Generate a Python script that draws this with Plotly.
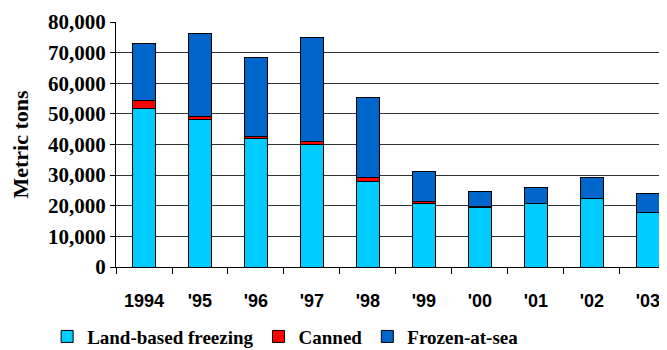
import plotly.graph_objects as go

years = ["1994", "'95", "'96", "'97", "'98", "'99", "'00", "'01", "'02", "'03"]
land_based = [51700, 48100, 41900, 40000, 28000, 20700, 19400, 20700, 22300, 17800]
canned = [2700, 900, 700, 1000, 1100, 600, 300, 100, 100, 100]
frozen_at_sea = [18500, 27100, 25800, 33800, 26400, 10000, 4800, 5000, 6800, 6100]

series = [
    ("Land-based freezing", land_based, "#00CCFF"),
    ("Canned", canned, "#FF0000"),
    ("Frozen-at-sea", frozen_at_sea, "#0066CC"),
]

fig = go.Figure()
for name, vals, color in series:
    fig.add_trace(go.Bar(
        x=years, y=vals, name=name,
        marker=dict(color=color, line=dict(color="black", width=1)),
    ))

serif = "Liberation Serif, Times New Roman, serif"
# page body has an 8px default margin, so the figure is sized to end at the window edge
fig.update_layout(
    width=659, height=342,
    barmode="stack", bargap=0.6,
    plot_bgcolor="white", paper_bgcolor="white",
    margin=dict(l=108, r=0, t=14, b=83, autoexpand=False),
    showlegend=True,
    legend=dict(
        orientation="h", x=-0.125, y=-0.284, xanchor="left", yanchor="middle",
        font=dict(family=serif, size=19, color="black", weight="bold"),
        traceorder="normal",
        itemwidth=30,
    ),
    xaxis=dict(
        range=[-0.5, 9.34],
        showline=True, linecolor="black", linewidth=1,
        ticks="outside", tickson="boundaries", ticklen=6, tickcolor="black",
        tickfont=dict(family="Liberation Sans, Arial, sans-serif", size=18, color="black", weight="bold"),
        ticklabelstandoff=17,
        showgrid=False, automargin=False,
    ),
    yaxis=dict(
        range=[0, 80000], dtick=10000, tickformat=",d",
        showline=True, linecolor="black", linewidth=1,
        ticks="outside", ticklen=5, tickcolor="black",
        showgrid=True, gridcolor="#333333", gridwidth=1,
        tickfont=dict(family=serif, size=21, color="black", weight="bold"),
        title=dict(text="<b>Metric tons</b>", font=dict(family=serif, size=22, color="black"), standoff=20),
        zeroline=False, automargin=False,
    ),
)

fig.write_html("out.html")
